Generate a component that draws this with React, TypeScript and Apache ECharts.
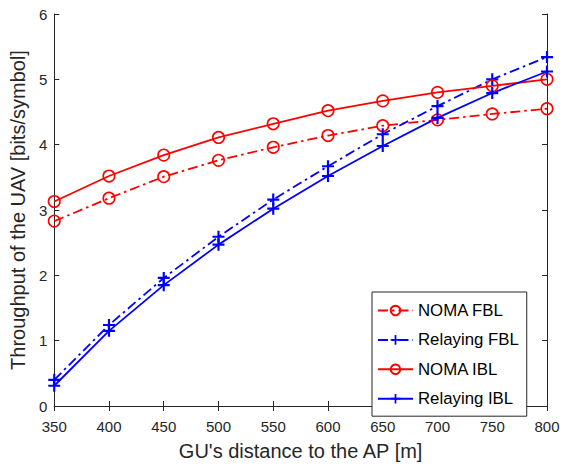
import React, { useEffect, useRef } from "react";
import * as echarts from "echarts";

const distances = [350, 400, 450, 500, 550, 600, 650, 700, 750, 800];
const nomaFBL = [2.83, 3.18, 3.51, 3.76, 3.96, 4.14, 4.29, 4.38, 4.47, 4.55];
const relayingFBL = [0.40, 1.24, 1.96, 2.59, 3.16, 3.67, 4.16, 4.59, 5.00, 5.34];
const nomaIBL = [3.13, 3.52, 3.84, 4.11, 4.32, 4.52, 4.67, 4.80, 4.90, 5.00];
const relayingIBL = [0.31, 1.15, 1.85, 2.47, 3.02, 3.52, 3.98, 4.41, 4.79, 5.12];
const seriesNames = ["NOMA FBL", "Relaying FBL", "NOMA IBL", "Relaying IBL"];

const RED = "#FF0000";
const BLUE = "#0000FF";
const AXIS = "#262626";
const FONT = "Liberation Sans, Arial, sans-serif";
const DASHDOT = [10, 4, 2.5, 4];
const PLUS = "path://M4.1,0H5.9V4.1H10V5.9H5.9V10H4.1V5.9H0V4.1H4.1Z";

const pairs = (ys: number[]) => distances.map((x, i) => [x, ys[i]]);

export default function App() {
  const ref = useRef<HTMLDivElement>(null);
  useEffect(() => {
    if (!ref.current) return;
    const chart = echarts.init(ref.current, undefined, { renderer: "svg" });
    const circleSeries = (name: string, ys: number[], dash: any) => ({
      name,
      type: "line",
      data: pairs(ys),
      symbol: "circle",
      symbolSize: 11.5,
      showAllSymbol: true,
      lineStyle: { color: RED, width: 1.8, type: dash },
      itemStyle: { color: "rgba(255,255,255,0)", borderColor: RED, borderWidth: 1.6 },
      emphasis: { disabled: true },
    });
    const plusSeries = (name: string, ys: number[], dash: any) => ({
      name,
      type: "line",
      data: pairs(ys),
      symbol: PLUS,
      symbolSize: 12,
      showAllSymbol: true,
      lineStyle: { color: BLUE, width: 1.8, type: dash },
      itemStyle: { color: BLUE, borderWidth: 0 },
      emphasis: { disabled: true },
    });
    const axisCommon = {
      axisLine: { show: true, lineStyle: { color: AXIS, width: 1 } },
      axisTick: { show: true, inside: true, length: 5, lineStyle: { color: AXIS } },
      splitLine: { show: false },
    };
    chart.setOption({
      animation: false,
      backgroundColor: "#ffffff",
      grid: { left: 54, right: 22, top: 14, bottom: 53 },
      legend: {
        orient: "vertical",
        left: 372,
        top: 292,
        data: seriesNames,
        itemWidth: 35,
        itemHeight: 12,
        itemGap: 12.4,
        padding: [10, 8, 9, 5],
        borderColor: AXIS,
        borderWidth: 1,
        backgroundColor: "#ffffff",
        textStyle: { fontFamily: FONT, fontSize: 16.8, color: "#000000", lineHeight: 12 },
      },
      xAxis: [
        {
          type: "value",
          min: 350,
          max: 800,
          interval: 50,
          position: "bottom",
          name: "GU's distance to the AP [m]",
          nameLocation: "middle",
          nameGap: 35,
          nameTextStyle: { fontFamily: FONT, fontSize: 20, color: AXIS },
          axisLabel: { fontFamily: FONT, fontSize: 15, color: AXIS, margin: 13 },
          ...axisCommon,
        },
        {
          type: "value",
          min: 350,
          max: 800,
          interval: 50,
          position: "top",
          axisLabel: { show: false },
          ...axisCommon,
        },
      ],
      yAxis: [
        {
          type: "value",
          min: 0,
          max: 6,
          interval: 1,
          position: "left",
          name: "Throughput of the UAV [bits/symbol]",
          nameLocation: "middle",
          nameGap: 20,
          nameTextStyle: { fontFamily: FONT, fontSize: 20, color: AXIS },
          axisLabel: { fontFamily: FONT, fontSize: 15, color: AXIS, margin: 7 },
          ...axisCommon,
        },
        {
          type: "value",
          min: 0,
          max: 6,
          interval: 1,
          position: "right",
          axisLabel: { show: false },
          ...axisCommon,
        },
      ],
      series: [
        circleSeries("NOMA FBL", nomaFBL, DASHDOT),
        plusSeries("Relaying FBL", relayingFBL, DASHDOT),
        circleSeries("NOMA IBL", nomaIBL, "solid"),
        plusSeries("Relaying IBL", relayingIBL, "solid"),
      ],
    });
    return () => chart.dispose();
  }, []);
  return (
    <div
      ref={ref}
      style={{ position: "fixed", left: 0, top: 0, width: 569, height: 466, background: "#fff" }}
    />
  );
}
